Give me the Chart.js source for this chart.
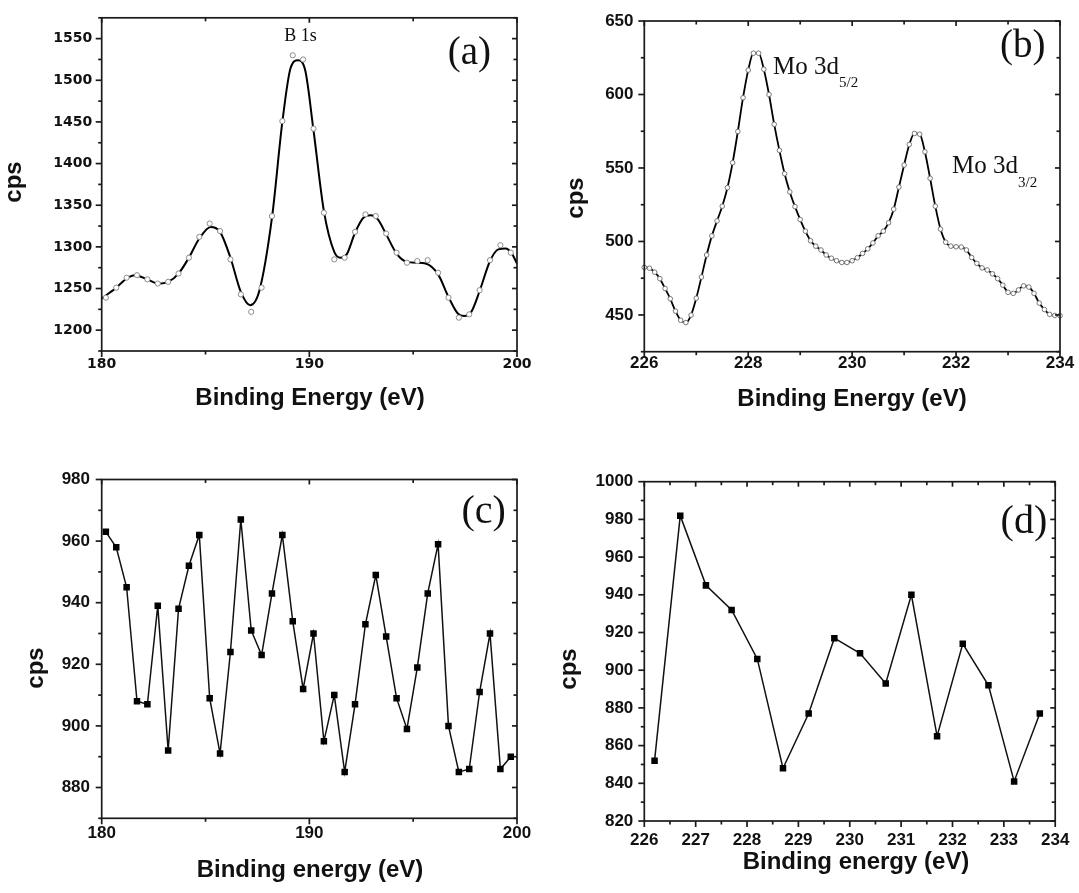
<!DOCTYPE html>
<html><head><meta charset="utf-8">
<script src="https://cdn.jsdelivr.net/npm/chart.js@4.4.1/dist/chart.umd.min.js"></script>
<style>
html,body{margin:0;padding:0;background:#fff;}
#wrap{position:relative;width:1079px;height:893px;overflow:hidden;background:#fff}
canvas{position:absolute;left:0;top:0}
</style></head><body><div id="wrap">
<canvas id="ca" width="1079" height="893"></canvas>
<canvas id="cb" width="1079" height="893"></canvas>
<canvas id="cc" width="1079" height="893"></canvas>
<canvas id="cd" width="1079" height="893"></canvas>
</div>
<script>
// ---------- data (a) B 1s ----------
const aEnergy = [180.2,180.7,181.2,181.7,182.2,182.7,183.2,183.7,184.2,184.7,185.2,185.7,186.2,186.7,187.2,187.7,188.2,188.7,189.2,189.7,190.2,190.7,191.2,191.7,192.2,192.7,193.2,193.7,194.2,194.7,195.2,195.7,196.2,196.7,197.2,197.7,198.2,198.7,199.2,199.7];
const aCps = [1239,1251,1263,1266,1261,1256,1258,1268,1287,1312,1328,1319,1285,1243,1222,1251,1337,1451,1530,1525,1442,1341,1285,1287,1318,1339,1337,1316,1293,1281,1283,1284,1269,1239,1215,1219,1248,1284,1302,1293];
const aFitEnergy = [180.0,180.7,181.2,181.6,182.2,182.7,183.2,183.7,184.2,184.7,185.25,185.7,186.2,186.7,187.15,187.6,188.2,188.7,189.1,189.45,189.8,190.2,190.7,191.2,191.5,191.8,192.2,192.6,192.95,193.3,193.7,194.2,194.7,195.2,195.6,196.2,196.7,197.15,197.45,197.8,198.2,198.7,199.1,199.45,199.75,200.0];
const aFitCps = [1238,1251,1262,1266,1261,1256,1258,1268,1287,1310,1324,1318,1287,1246,1230,1248,1335,1450,1515,1524,1512,1440,1343,1294,1287,1291,1317,1335,1338,1333,1315,1292,1282,1281,1280,1267,1240,1220,1217,1222,1247,1283,1297,1298,1292,1280];
const aXTicks = [180,190,200];
const aYTicks = [1200,1250,1300,1350,1400,1450,1500,1550];

// ---------- data (b) Mo 3d ----------
const bEnergy = [226.0,226.1,226.2,226.3,226.4,226.5,226.6,226.7,226.8,226.9,227.0,227.1,227.2,227.3,227.4,227.5,227.6,227.7,227.8,227.9,228.0,228.1,228.2,228.3,228.4,228.5,228.6,228.7,228.8,228.9,229.0,229.1,229.2,229.3,229.4,229.5,229.6,229.7,229.8,229.9,230.0,230.1,230.2,230.3,230.4,230.5,230.6,230.7,230.8,230.9,231.0,231.1,231.2,231.3,231.4,231.5,231.6,231.7,231.8,231.9,232.0,232.1,232.2,232.3,232.4,232.5,232.6,232.7,232.8,232.9,233.0,233.1,233.2,233.3,233.4,233.5,233.6,233.7,233.8,233.9,234.0];
const bCps = [482.4,481.8,479.1,474.7,468,461,452.6,446.4,444.8,449.9,461.4,475.8,490.8,503.8,514,524,536.6,553.6,574.8,597.8,616.6,628.1,628.1,617.2,600,579.7,562,546.1,533.7,523.7,514.9,507,500.5,496.8,494.2,490.8,488.6,486.9,485.7,485.7,486.9,488.9,491.9,495,499,503.8,507,512.7,522,537,552,566,573.5,573,561,543,524,508.4,499.5,496.8,496.4,496.2,494.2,489.1,485.1,482,480.6,478,474.7,470.3,465.4,464.7,467,469.8,469,464.7,458.1,453.7,450.4,449.7,449.5];
const bXTicks = [226,228,230,232,234];
const bYTicks = [450,500,550,600,650];

// ---------- data (c) ----------
const cEnergy = [180.2,180.7,181.2,181.7,182.2,182.7,183.2,183.7,184.2,184.7,185.2,185.7,186.2,186.7,187.2,187.7,188.2,188.7,189.2,189.7,190.2,190.7,191.2,191.7,192.2,192.7,193.2,193.7,194.2,194.7,195.2,195.7,196.2,196.7,197.2,197.7,198.2,198.7,199.2,199.7];
const cCps = [963,958,945,908,907,939,892,938,952,962,909,891,924,967,931,923,943,962,934,912,930,895,910,885,907,933,949,929,909,899,919,943,959,900,885,886,911,930,886,890];
const cXTicks = [180,190,200];
const cYTicks = [880,900,920,940,960,980];

// ---------- data (d) ----------
const dEnergy = [226.2,226.7,227.2,227.7,228.2,228.7,229.2,229.7,230.2,230.7,231.2,231.7,232.2,232.7,233.2,233.7];
const dCps = [852,982,945,932,906,848,877,917,909,893,940,865,914,892,841,877];
const dXTicks = [226,227,228,229,230,231,232,233,234];
const dYTicks = [820,840,860,880,900,920,940,960,980,1000];

const xy = (xs, ys) => xs.map((v, i) => ({x: v, y: ys[i]}));

// ---------- plugins ----------
const frameTicks = {
  id: 'frameTicks',
  afterDraw(chart, args, o) {
    const {ctx, chartArea: a, scales: {x, y}} = chart;
    ctx.save();
    ctx.strokeStyle = '#1a1a1a';
    ctx.lineWidth = 1.7;
    const seg = (x1, y1, x2, y2) => { ctx.beginPath(); ctx.moveTo(x1, y1); ctx.lineTo(x2, y2); ctx.stroke(); };
    const list = (sc, step) => {
      const majors = sc.ticks.map(t => t.value);
      const out = [];
      for (let v = sc.min; v <= sc.max + 1e-6; v += step) {
        const vv = Math.round(v * 1000) / 1000;
        out.push({v: vv, major: majors.some(m => Math.abs(m - vv) < 1e-6)});
      }
      return out;
    };
    list(x, o.xMinor).forEach(t => {
      const p = x.getPixelForValue(t.v);
      seg(p, a.bottom, p, a.bottom + (t.major ? 6 : 3.5));
      seg(p, a.top, p, a.top + (t.major ? 5 : 3.5));
    });
    list(y, o.yMinor).forEach(t => {
      const p = y.getPixelForValue(t.v);
      seg(a.left, p, a.left - (t.major ? 6 : 3.5), p);
      seg(a.right, p, a.right - (t.major ? 5 : 3.5), p);
    });
    ctx.strokeRect(a.left, a.top, a.right - a.left, a.bottom - a.top);
    ctx.restore();
  }
};
const texts = {
  id: 'texts',
  afterDraw(chart, args, o) {
    const ctx = chart.ctx;
    (o.items || []).forEach(t => {
      ctx.save();
      ctx.font = t.font;
      ctx.fillStyle = '#111';
      ctx.textAlign = t.align || 'left';
      ctx.textBaseline = 'alphabetic';
      ctx.translate(t.x, t.y);
      if (t.rot) ctx.rotate(t.rot);
      ctx.fillText(t.text, 0, 0);
      ctx.restore();
    });
  }
};

const SANS = '"Liberation Sans", Arial, sans-serif';
const SERIF = '"Liberation Serif", "Times New Roman", serif';
const TITLE = 'bold 24px ' + SANS;

function makeChart(id, datasets, s) {
  return new Chart(document.getElementById(id), {
    type: 'line',
    data: {datasets},
    options: {
      responsive: false, animation: false, devicePixelRatio: 1,
      events: [],
      layout: {padding: s.pad},
      plugins: {
        legend: {display: false}, tooltip: {enabled: false},
        frameTicks: {xMinor: s.xMinor, yMinor: s.yMinor},
        texts: {items: s.texts}
      },
      scales: {
        x: {
          type: 'linear', min: s.xMin, max: s.xMax,
          grid: {display: false, drawTicks: false},
          border: {display: false},
          afterBuildTicks: sc => { sc.ticks = s.xTicks.map(v => ({value: v})); },
          afterFit: sc => { sc.height = 40; },
          ticks: {autoSkip: false, maxRotation: 0, padding: s.xPad, color: '#111',
                  font: s.tickFont, callback: v => String(v)}
        },
        y: {
          type: 'linear', min: s.yMin, max: s.yMax,
          grid: {display: false, drawTicks: false},
          border: {display: false},
          afterBuildTicks: sc => { sc.ticks = s.yTicks.map(v => ({value: v})); },
          afterFit: sc => { sc.width = s.yW; },
          ticks: {padding: s.yPad, color: '#111', font: s.tickFont, callback: v => String(v)}
        }
      }
    },
    plugins: [frameTicks, texts]
  });
}

// (a)
makeChart('ca', [
  {data: xy(aEnergy, aCps), showLine: false, pointRadius: 2.6, pointBorderWidth: 1,
   pointBorderColor: '#8c8c8c', pointBackgroundColor: '#fff', order: 0},
  {data: xy(aFitEnergy, aFitCps), borderColor: '#000', borderWidth: 2, pointRadius: 0,
   cubicInterpolationMode: 'monotone', fill: false, order: 1}
], {
  pad: {left: 0, right: 562, top: 12.9, bottom: 502},
  xMin: 180, xMax: 200, yMin: 1175, yMax: 1575,
  xTicks: aXTicks, yTicks: aYTicks, xMinor: 5, yMinor: 25,
  yW: 101.7, yPad: 9.4, xPad: 4.6,
  tickFont: {family: '"DejaVu Sans", sans-serif', weight: 'bold', size: 14},
  texts: [
    {text: 'cps', x: 21, y: 182, rot: -Math.PI / 2, align: 'center', font: TITLE},
    {text: 'Binding Energy (eV)', x: 310, y: 405, align: 'center', font: TITLE},
    {text: 'B 1s', x: 284.3, y: 40.5, font: '18px ' + SERIF},
    {text: '(a)', x: 447.7, y: 64, font: '39px ' + SERIF}
  ]
});

// (b)
makeChart('cb', [
  {data: xy(bEnergy, bCps), borderColor: '#000', borderWidth: 1.8, cubicInterpolationMode: 'monotone',
   pointRadius: 2.3, pointBorderWidth: 1, pointBorderColor: '#777', pointBackgroundColor: '#fff',
   fill: false, clip: false}
], {
  pad: {left: 544.3, right: 19, top: 12.3, bottom: 501.3},
  xMin: 226, xMax: 234, yMin: 425, yMax: 650,
  xTicks: bXTicks, yTicks: bYTicks, xMinor: 1, yMinor: 25,
  yW: 100, yPad: 10.8, xPad: 1.6,
  tickFont: {family: SANS, weight: 'bold', size: 17},
  texts: [
    {text: 'cps', x: 583, y: 198, rot: -Math.PI / 2, align: 'center', font: TITLE},
    {text: 'Binding Energy (eV)', x: 852, y: 406, align: 'center', font: TITLE},
    {text: 'Mo 3d', x: 773, y: 74, font: '25px ' + SERIF},
    {text: '5/2', x: 839, y: 87, font: '15px ' + SERIF},
    {text: 'Mo 3d', x: 952, y: 173, font: '25px ' + SERIF},
    {text: '3/2', x: 1018, y: 187, font: '15px ' + SERIF},
    {text: '(b)', x: 1000, y: 57, font: '39px ' + SERIF}
  ]
});

// (c)
makeChart('cc', [
  {data: xy(cEnergy, cCps), borderColor: '#111', borderWidth: 1.5, tension: 0,
   pointStyle: 'rect', pointRadius: 4.6, pointBorderWidth: 0, pointBackgroundColor: '#000', fill: false}
], {
  pad: {left: 0, right: 562, top: 479.5, bottom: 34.7},
  xMin: 180, xMax: 200, yMin: 870, yMax: 980,
  xTicks: cXTicks, yTicks: cYTicks, xMinor: 5, yMinor: 10,
  yW: 101.7, yPad: 11.7, xPad: 4.8,
  tickFont: {family: SANS, weight: 'bold', size: 17},
  texts: [
    {text: 'cps', x: 43, y: 668, rot: -Math.PI / 2, align: 'center', font: TITLE},
    {text: 'Binding energy (eV)', x: 310, y: 876.5, align: 'center', font: TITLE},
    {text: '(c)', x: 461.4, y: 523, font: '40px ' + SERIF}
  ]
});

// (d)
makeChart('cd', [
  {data: xy(dEnergy, dCps), borderColor: '#111', borderWidth: 1.5, tension: 0,
   pointStyle: 'rect', pointRadius: 4.6, pointBorderWidth: 0, pointBackgroundColor: '#000', fill: false}
], {
  pad: {left: 544.3, right: 19, top: 481.7, bottom: 32},
  xMin: 226, xMax: 234, yMin: 820, yMax: 1000,
  xTicks: dXTicks, yTicks: dYTicks, xMinor: 0.5, yMinor: 10,
  yW: 100, yPad: 11, xPad: 9.6,
  tickFont: {family: SANS, weight: 'bold', size: 17},
  texts: [
    {text: 'cps', x: 576, y: 669, rot: -Math.PI / 2, align: 'center', font: TITLE},
    {text: 'Binding energy (eV)', x: 856, y: 869, align: 'center', font: TITLE},
    {text: '(d)', x: 1000.6, y: 533, font: '40px ' + SERIF}
  ]
});
</script>
</body></html>
